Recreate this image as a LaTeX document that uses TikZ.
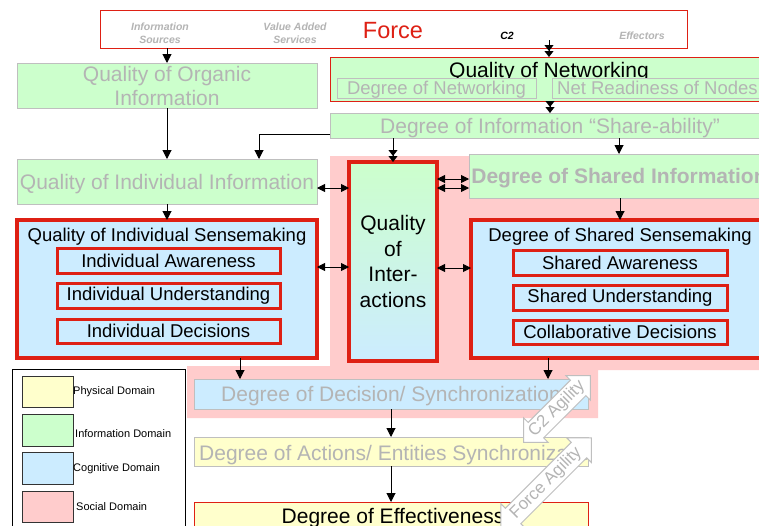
\documentclass[tikz,border=0pt]{standalone}
\usepackage{fontspec}
\setmainfont{Liberation Sans}
\usetikzlibrary{arrows.meta,shapes.arrows}
\definecolor{infogreen}{RGB}{204,255,204}
\definecolor{cogblue}{RGB}{204,236,255}
\definecolor{socpink}{RGB}{255,204,204}
\definecolor{physyellow}{RGB}{255,255,204}
\definecolor{boxgray}{RGB}{191,191,191}
\definecolor{txtgray}{RGB}{180,180,180}
\definecolor{dred}{RGB}{222,32,20}
\begin{document}
\begin{tikzpicture}[x=1pt,y=-1pt,
  bx/.style={anchor=north west, inner sep=0pt, outer sep=0pt, align=center},
  big/.style={font=\fontsize{21}{24}\selectfont},
  mid/.style={font=\fontsize{18.5}{21}\selectfont},
  nodepth/.style={text depth=0pt},
  smallit/.style={font=\fontsize{10.5}{13}\selectfont\bfseries\itshape, align=center, inner sep=0pt},
  leg/.style={font=\fontsize{11}{13}\selectfont, anchor=west, inner sep=0pt},
  info/.style={bx, draw=boxgray, fill=infogreen, line width=1pt, text=txtgray},
  subbox/.style={bx, draw=dred, line width=3pt, fill=cogblue, mid},
  swatch/.style={bx, draw=black!80, line width=0.8pt, minimum width=51pt},
  arr/.style={-{Triangle[length=9pt,width=9pt]}, line width=1pt},
  arrtwo/.style={-{Triangle[length=6pt,width=9pt]Triangle[length=6pt,width=9pt]}, line width=1pt},
  darr/.style={{Triangle[length=8pt,width=8pt]}-{Triangle[length=8pt,width=8pt]}, line width=0.9pt},
  agil/.style={double arrow, draw=boxgray, fill=white, line width=1pt, text=txtgray,
     font=\fontsize{17}{17}\selectfont, double arrow head extend=6.5pt,
     inner xsep=0pt, inner ysep=2.5pt, rotate=45, minimum width=32pt}
]
\useasboundingbox (0,0) rectangle (759,525);
\fill[white] (0,0) rectangle (759,525);

% social domain region
\fill[socpink] (330,156) -- (770,156) -- (770,370) -- (598,370) -- (598,418)
  -- (187,418) -- (187,366) -- (330,366) -- cycle;

% Force box
\node[bx, draw=dred, line width=1pt, minimum width=587pt, minimum height=38pt] (force) at (100,10) {};
\node[smallit, text=txtgray] (infosrc) at (160,33.5) {Information\\Sources};
\node[smallit, text=txtgray] (vas) at (295,33.5) {Value Added\\Services};
\node[font=\fontsize{23.5}{24}\selectfont, text=dred, inner sep=0pt] (forcelabel) at (393,30.5) {Force};
\node[smallit, text=black] (c2) at (507,36) {C2};
\node[smallit, text=txtgray] (effectors) at (642,36) {Effectors};
\coordinate (c2out) at (549,40);

% Information domain
\node[info, big, minimum width=300pt, minimum height=45pt] (organic) at (17,63) {Quality of Organic\\Information};
\node[bx, draw=dred, line width=1pt, fill=infogreen, minimum width=440pt, minimum height=44pt] (net) at (330,57) {};
\node[big, inner sep=0pt] (nettitle) at (549,72.5) {Quality of Networking};
\node[info, mid, nodepth, minimum width=199pt, minimum height=20pt] (degnet) at (337,78) {Degree of Networking};
\node[info, minimum width=220pt, minimum height=20pt] (netready) at (552,78) {};
\node[mid, nodepth, text=txtgray, anchor=west, inner sep=0pt] (netreadytext) at (557,88) {Net Readiness of Nodes};
\node[info, big, nodepth, minimum width=440pt, minimum height=25pt] (share) at (330,113) {Degree of Information “Share-ability”};
\node[info, nodepth, font=\fontsize{21}{24}\selectfont\bfseries, minimum width=300pt, minimum height=44pt] (sharedinfo) at (469,154) {Degree of Shared Information};
\node[info, big, nodepth, minimum width=300pt, minimum height=45pt] (indinfo) at (17,159) {Quality of Individual Information};

% Interactions
\node[bx, draw=dred, line width=4pt, top color=infogreen, bottom color=cogblue,
  minimum width=88pt, minimum height=199pt, font=\fontsize{21}{25.5}\selectfont] (inter) at (349,162) {Quality\\of\\Inter-\\actions};

% Sensemaking
\node[bx, draw=dred, line width=4pt, fill=cogblue, minimum width=300pt, minimum height=138pt] (indsense) at (17,220) {};
\node[mid, inner sep=0pt] (indsensetitle) at (167,237) {Quality of Individual Sensemaking};
\node[subbox, minimum width=223pt, minimum height=25pt] (indaw) at (57,248) {Individual Awareness};
\node[subbox, minimum width=223pt, minimum height=25pt] (indund) at (57,283) {Individual Understanding};
\node[subbox, minimum width=223pt, minimum height=24pt] (inddec) at (57,319) {Individual Decisions};

\node[bx, draw=dred, line width=4pt, fill=cogblue, minimum width=300pt, minimum height=138pt] (shsense) at (471,220) {};
\node[mid, inner sep=0pt] (shsensetitle) at (620,237) {Degree of Shared Sensemaking};
\node[subbox, minimum width=214pt, minimum height=25pt] (shaw) at (513,250) {Shared Awareness};
\node[subbox, minimum width=214pt, minimum height=25pt] (shund) at (513,285) {Shared Understanding};
\node[subbox, minimum width=214pt, minimum height=24pt] (coldec) at (513,320) {Collaborative Decisions};

% Decision / actions / effectiveness
\node[bx, draw=boxgray, line width=1pt, fill=cogblue, text=txtgray, big, nodepth, minimum width=394pt, minimum height=30pt] (decision) at (194,379) {Degree of Decision/ Synchronization};
\node[bx, draw=boxgray, line width=1pt, fill=physyellow, minimum width=394pt, minimum height=29pt] (actions) at (194,437) {};
\begin{scope}
  \clip (actions.north west) rectangle (actions.south east);
  \node[big, nodepth, text=txtgray, anchor=west, inner sep=0pt] (actionstext) at (199,452.5) {Degree of Actions/ Entities Synchronization};
\end{scope}
\node[bx, draw=dred, line width=1pt, fill=physyellow, minimum width=394pt, minimum height=40pt] (effect) at (194,502) {};
\node[big, inner sep=0pt] (effecttext) at (393,518) {Degree of Effectiveness};

% Legend
\node[bx, draw=black, line width=1pt, fill=white, minimum width=173pt, minimum height=170pt] (legend) at (12,369) {};
\node[swatch, fill=physyellow, minimum height=31pt] (swphys) at (22,376) {};
\node[swatch, fill=infogreen, minimum height=32pt] (swinfo) at (22,414) {};
\node[swatch, fill=cogblue, minimum height=32pt] (swcog) at (22,452) {};
\node[swatch, fill=socpink, minimum height=31pt] (swsoc) at (22,491) {};
\node[leg] (lbphys) at (73,392) {Physical Domain};
\node[leg] (lbinfo) at (75,434) {Information Domain};
\node[leg] (lbcog) at (73,469) {Cognitive Domain};
\node[leg] (lbsoc) at (76,507) {Social Domain};

% Connectors
\draw[arr] (force.south -| organic.north) -- (organic.north);
\draw[arrtwo] (c2out) -- (c2out |- net.north);
\draw[arrtwo] (net.south) -- (net.south |- share.north);
\draw[arr] (organic.south) -- (indinfo.north);
\draw[arr] ([yshift=-8.5pt]share.west) -| ([xshift=92pt]indinfo.north);
\draw[arrtwo] (inter.north |- share.south) -- (inter.north);
\draw[arr] (sharedinfo.north |- share.south) -- (sharedinfo.north);
\draw[arr] (indinfo.south) -- (indsense.north);
\draw[arr] (sharedinfo.south -| shsensetitle) -- (shsensetitle |- shsense.north);
\draw[darr] ([yshift=-6.5pt]indinfo.east) -- ([yshift=-6.5pt]indinfo.east -| inter.west);
\draw[darr] ([yshift=-3pt]sharedinfo.west -| inter.east) -- ([yshift=-3pt]sharedinfo.west);
\draw[darr] ([yshift=-12pt]sharedinfo.west -| inter.east) -- ([yshift=-12pt]sharedinfo.west);
\draw[darr] ([yshift=22pt]indsense.east) -- ([yshift=22pt]indsense.east -| inter.west);
\draw[darr] ([yshift=21pt]shsense.west -| inter.east) -- ([yshift=21pt]shsense.west);
\draw[arr] ([xshift=73pt]indsense.south) -- ([xshift=73pt]indsense.south |- decision.north);
\draw[arr] ([xshift=-73pt]shsense.south) -- ([xshift=-73pt]shsense.south |- decision.north);
\draw[arr] (decision.south) -- (actions.north);
\draw[arr] (actions.south) -- (effect.north);

% Agility arrows
\node[agil, minimum height=94pt] (c2ag) at (557,409) {C2 Agility};
\node[agil, minimum height=128pt] (forceag) at (546,483) {Force Agility};
\end{tikzpicture}
\end{document}
